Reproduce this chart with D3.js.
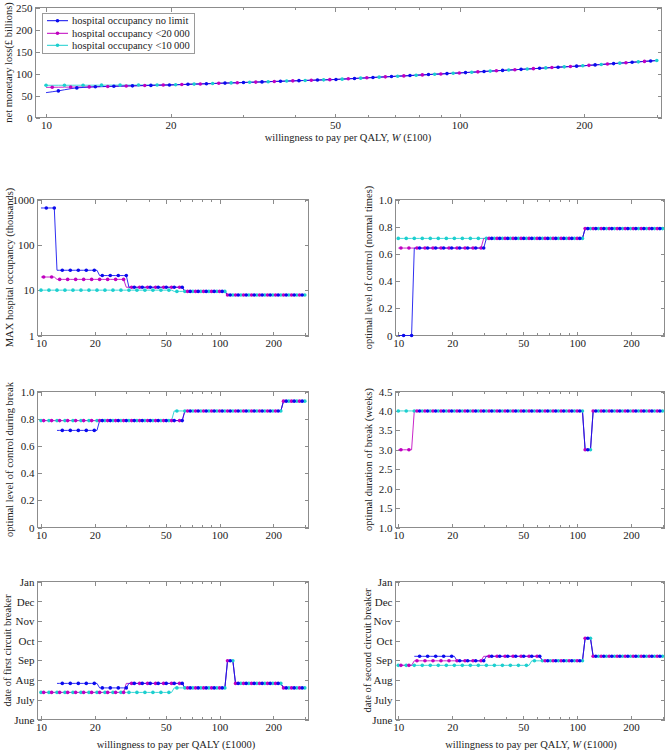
<!DOCTYPE html>
<html><head><meta charset="utf-8">
<script src="https://cdn.jsdelivr.net/npm/d3@7"></script>
<style>
body{margin:0;background:#fff}
svg{display:block}
text{font-family:"Liberation Serif","Times New Roman",serif;font-size:11px;fill:#222}
.title{font-size:10.5px}
</style>
</head><body>
<svg id="chart" width="667" height="750"></svg>
<script>
// ---------- DATA ----------
// willingness to pay grid (shared x values)
const wtp = [10.00,10.35,10.71,11.08,11.47,11.87,12.29,12.72,13.16,13.62,14.10,14.59,15.10,15.63,16.18,16.74,17.33,17.93,18.56,19.21,
19.88,20.58,21.30,22.04,22.81,23.61,24.43,25.29,26.17,27.09,28.03,29.01,30.03,31.08,32.16,33.29,34.45,35.65,36.90,38.19,
39.52,40.90,42.33,43.81,45.34,46.93,48.57,50.26,52.02,53.83,55.72,57.66,59.68,61.76,63.92,66.16,68.47,70.86,73.34,75.90,
78.55,81.30,84.14,87.09,90.13,93.28,96.54,99.92,103.41,107.03,110.77,114.64,118.65,122.80,127.09,131.52,136.13,140.89,145.81,150.91,
156.19,161.65,167.30,173.15,179.20,185.47,191.95,198.66,205.61,212.80,220.23,227.93,235.90,244.15,252.69,261.52,270.66,280.13,289.92,300.00];

const seriesNames = ["hospital occupancy no limit", "hospital occupancy <20\u2009000", "hospital occupancy <10\u2009000"];

// net monetary loss (£ billions): shared curve + the differing first values of each series
const lossCommon = [67.0,67.4,67.7,68.1,68.4,68.8,69.1,69.5,69.8,70.2,70.5,70.9,71.2,71.6,71.9,72.3,72.6,73.0,73.3,73.7,74.0,
74.5,74.9,75.4,75.9,76.3,76.8,77.2,77.7,78.2,78.6,79.1,79.6,80.0,80.5,80.9,81.4,81.9,82.3,82.8,83.3,83.7,84.2,84.6,85.1,85.6,86.0,86.5,
87.2,88.0,88.7,89.4,90.2,90.9,91.7,92.4,93.1,93.9,94.6,95.3,96.1,96.8,97.6,98.3,99.0,99.8,100.5,
101.3,102.1,102.9,103.7,104.6,105.4,106.2,107.0,107.8,108.6,109.4,110.2,111.0,111.8,112.7,113.5,114.3,115.1,115.9,116.7,117.5,
118.5,119.5,120.5,121.5,122.5,123.5,124.5,125.5,126.5,127.5,128.5,129.5];
const lossNoLimitStart = [56.5,58.5,60.5,63.0,65.5,67.3,68.3,69.0];
const loss20kStart = [68.5,68.7,68.8,69.0,69.1,69.3,69.5];
const loss10kStart = [73.2,73.2,73.3,73.3,73.3,73.4,73.4,73.4,73.5,73.5,73.5,73.6,73.6,73.6,73.7,73.7,73.8,73.8,73.9,74.0];

// step series as runs of [value, number of grid points]; null = no value
const maxOccNoLimit = [[650,6],[27.5,16],[21,11],[11.6,21],[9.4,16],[7.8,30]];
const maxOcc20k     = [[19.5,6],[17.3,26],[11.6,22],[9.4,16],[7.8,30]];
const maxOcc10k     = [[10,50],[9.4,20],[7.8,30]];

const ctrlNormalNoLimit = [[0,6],[0.643,27],[0.714,37],[0.786,30]];
const ctrlNormal20k     = [[0.643,32],[0.714,38],[0.786,30]];
const ctrlNormal10k     = [[0.714,70],[0.786,30]];

const ctrlBreakNoLimit = [[null,6],[0.714,16],[0.786,32],[0.857,37],[0.929,9]];
const ctrlBreak20k     = [[0.786,54],[0.857,37],[0.929,9]];
const ctrlBreak10k     = [[0.786,50],[0.857,41],[0.929,9]];

const durNoLimit = [[null,6],[4,64],[3,3],[4,27]];
const dur20k     = [[3,6],[4,64],[3,3],[4,27]];
const dur10k     = [[4,70],[3,3],[4,27]];

// dates as day of year (2020): 194 = 13 Jul, 201 = 20 Jul, 208 = 27 Jul, 243 = 31 Aug ...
const firstCBNoLimit = [[null,6],[208,16],[201,11],[208,21],[201,16],[243,3],[208,18],[201,9]];
const firstCB20k     = [[194,32],[208,22],[201,16],[243,3],[208,18],[201,9]];
const firstCB10k     = [[194,50],[201,20],[243,3],[208,18],[201,9]];

const secondCBNoLimit = [[null,6],[250,16],[243,11],[250,21],[243,16],[278,3],[250,27]];
const secondCB20k     = [[236,6],[243,26],[250,22],[243,16],[278,3],[250,27]];
const secondCB10k     = [[236,50],[243,20],[278,3],[250,27]];

const xMajorTicks = [10,20,50,100,200];
const xMinorTicks = [30,40,60,70,80,90,300];
const monthTicks = [152,182,213,244,274,305,335,366];
const monthLabels = ["June","July","Aug","Sep","Oct","Nov","Dec","Jan"];

// ---------- DRAWING ----------
const svg = d3.select("#chart");
const frameColor = "#8c8c8c";
const colors = {noLimit:"#0a0aee", c20k:"#c000c0", c10k:"#1ccfcf"};

function expand(runs){ const out=[]; runs.forEach(([v,n])=>{ for(let k=0;k<n;k++) out.push(v); }); return out; }
function withStart(start, common){ return start.concat(common.slice(start.length)); }

function panel(o){
  const g = svg.append("g");
  const x = d3.scaleLog().domain(o.xdom).range([o.x0, o.x1]);
  const y = (o.ylog ? d3.scaleLog() : d3.scaleLinear()).domain(o.ydom).range([o.y1, o.y0]);

  const ax = (gen, tr) => {
    const a = g.append("g").attr("transform", tr).attr("color", frameColor).call(gen);
    a.select(".domain").remove();
    a.attr("font-family", null).attr("font-size", null);
    a.selectAll("line").attr("shape-rendering","crispEdges");
    return a;
  };
  const minor = xMinorTicks.filter(v=>v<o.xdom[1]);
  ax(d3.axisBottom(x).tickValues(xMajorTicks).tickFormat(d3.format("d")).tickSize(-4).tickPadding(4), `translate(0,${o.y1})`);
  ax(d3.axisBottom(x).tickValues(minor).tickFormat("").tickSize(-2.5), `translate(0,${o.y1})`);
  ax(d3.axisTop(x).tickValues(xMajorTicks).tickFormat("").tickSize(-4), `translate(0,${o.y0})`);
  ax(d3.axisTop(x).tickValues(minor).tickFormat("").tickSize(-2.5), `translate(0,${o.y0})`);
  ax(d3.axisLeft(y).tickValues(o.yticks).tickFormat(o.yfmt).tickSize(-4).tickPadding(3), `translate(${o.x0},0)`);
  ax(d3.axisRight(y).tickValues(o.yticks).tickFormat("").tickSize(-4), `translate(${o.x1},0)`);

  g.append("rect").attr("x",o.x0).attr("y",o.y0).attr("width",o.x1-o.x0).attr("height",o.y1-o.y0)
    .attr("fill","none").attr("stroke",frameColor).attr("shape-rendering","crispEdges");

  const line = d3.line().defined(d=>d.v!=null).x(d=>x(d.w)).y(d=>y(d.v));
  // draw order: <10 000, <20 000, no limit (no limit on top)
  const order = [2,1,0];
  const offsets = [2,1,0];
  order.forEach(s=>{
    const vals = o.series[s];
    const pts = vals.map((v,i)=>({w:wtp[i], v:v}));
    g.append("path").datum(pts).attr("d", line).attr("fill","none")
      .attr("stroke", o.colors[s]).attr("stroke-width",1).attr("stroke-opacity",0.85);
  });
  order.forEach(s=>{
    const vals = o.series[s];
    const pts = vals.map((v,i)=>({w:wtp[i], v:v, i:i})).filter(d=>d.v!=null && d.i%3===offsets[s]);
    g.selectAll(null).data(pts).enter().append("circle")
      .attr("cx", d=>x(d.w)).attr("cy", d=>y(d.v)).attr("r", 1.8).attr("fill", o.colors[s]);
  });

  // titles
  g.append("text").attr("class","title").attr("text-anchor","middle").attr("dy","0.35em")
    .attr("transform", `translate(${o.ylabelX},${(o.y0+o.y1)/2}) rotate(-90)`).text(o.ylabel);
  if (o.xlabel){
    const t = g.append("text").attr("class","title").attr("text-anchor","middle")
      .attr("x", o.xlabelX).attr("y", o.xlabelY);
    o.xlabel.forEach(p=>{ const ts = t.append("tspan").text(p[0]); if(p[1]) ts.attr("font-style","italic"); });
  }
  return {x, y, g};
}

const seriesColors = [colors.noLimit, colors.c20k, colors.c10k];
const fmtInt = d3.format("d");
const fmtFrac = d => d===0 ? "0" : d3.format(".1f")(d);
const fmtMonth = d => monthLabels[monthTicks.indexOf(d)];

// top panel
const topPanel = panel({
  x0:35.5, x1:661.5, y0:7.5, y1:117.5, xdom:[9.43,308], ydom:[0,250],
  yticks:[0,50,100,150,200,250], yfmt:fmtInt,
  ylabel:"net monetary loss(£ billions)", ylabelX:8,
  xlabel:[["willingness to pay per QALY, "],["W",true],[" (£100)"]], xlabelX:348, xlabelY:141,
  colors:seriesColors,
  series:[withStart(lossNoLimitStart,lossCommon), withStart(loss20kStart,lossCommon), withStart(loss10kStart,lossCommon)]
});

// legend
const lg = svg.append("g");
const lgBox = lg.append("rect").attr("x",42.5).attr("y",13.5).attr("height",40).attr("fill","#fff")
  .attr("stroke","#9a9a9a").attr("shape-rendering","crispEdges");
const rows = [20.7,33.3,45.3];
let maxW = 0;
seriesNames.forEach((name,k)=>{
  lg.append("line").attr("x1",47).attr("x2",68).attr("y1",rows[k]).attr("y2",rows[k])
    .attr("stroke",seriesColors[k]).attr("stroke-width",1);
  lg.append("circle").attr("cx",57.5).attr("cy",rows[k]).attr("r",1.8).attr("fill",seriesColors[k]);
  const t = lg.append("text").attr("x",72).attr("y",rows[k]).attr("dy","0.35em").attr("class","title").text(name);
  maxW = Math.max(maxW, t.node().getComputedTextLength());
});
lgBox.attr("width", 72 + maxW + 5 - 42.5);

const L = {x0:37.5, x1:308.5, xdom:[9.56,314.6], ylabelX:9};
const R = {x0:395.5, x1:664.5, xdom:[9.65,307.6], ylabelX:368};
const row2 = {y0:199.5, y1:335.5}, row3 = {y0:391.5, y1:527.5}, row4 = {y0:581.5, y1:719.5};

panel(Object.assign({}, L, row2, {ylog:true, ydom:[1,1000], yticks:[1,10,100,1000], yfmt:fmtInt,
  ylabel:"MAX hospital occupancy (thousands)", colors:seriesColors,
  series:[expand(maxOccNoLimit), expand(maxOcc20k), expand(maxOcc10k)]}));

panel(Object.assign({}, R, row2, {ydom:[0,1], yticks:[0,0.2,0.4,0.6,0.8,1.0], yfmt:fmtFrac,
  ylabel:"optimal level of control (normal times)", colors:seriesColors,
  series:[expand(ctrlNormalNoLimit), expand(ctrlNormal20k), expand(ctrlNormal10k)]}));

panel(Object.assign({}, L, row3, {ydom:[0,1], yticks:[0,0.2,0.4,0.6,0.8,1.0], yfmt:fmtFrac,
  ylabel:"optimal level of control during break", colors:seriesColors,
  series:[expand(ctrlBreakNoLimit), expand(ctrlBreak20k), expand(ctrlBreak10k)]}));

panel(Object.assign({}, R, row3, {ydom:[1,4.5], yticks:[1,1.5,2,2.5,3,3.5,4,4.5], yfmt:d3.format(".1f"),
  ylabel:"optimal duration of break (weeks)", colors:seriesColors,
  series:[expand(durNoLimit), expand(dur20k), expand(dur10k)]}));

panel(Object.assign({}, L, row4, {ydom:[152,366], yticks:monthTicks, yfmt:fmtMonth, ylabelX:7,
  ylabel:"date of first circuit breaker", colors:seriesColors,
  xlabel:[["willingness to pay per QALY (£1000)"]], xlabelX:176, xlabelY:748,
  series:[expand(firstCBNoLimit), expand(firstCB20k), expand(firstCB10k)]}));

panel(Object.assign({}, R, row4, {ydom:[152,366], yticks:monthTicks, yfmt:fmtMonth, ylabelX:367,
  ylabel:"date of second circuit breaker", colors:seriesColors,
  xlabel:[["willingness to pay per QALY, "],["W",true],[" (£1000)"]], xlabelX:531, xlabelY:748,
  series:[expand(secondCBNoLimit), expand(secondCB20k), expand(secondCB10k)]}));
</script>
</body></html>
